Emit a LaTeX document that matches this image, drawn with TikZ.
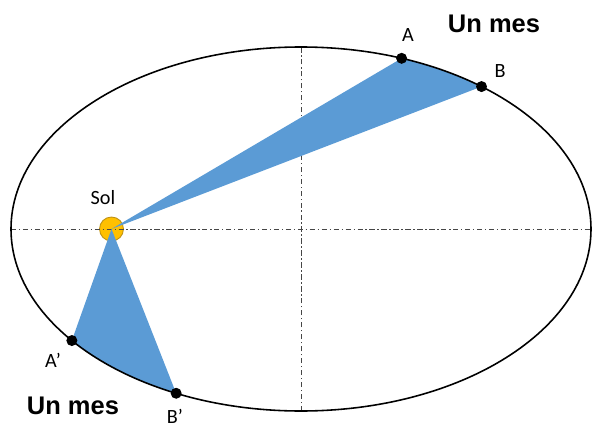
\documentclass[tikz,border=0pt]{standalone}
\usepackage{fontspec}
\setmainfont{Carlito}
\newfontfamily\headfont{Liberation Sans}
\usetikzlibrary{positioning}
\definecolor{skyblue}{RGB}{91,155,213}
\definecolor{sungold}{RGB}{255,192,0}
\definecolor{sunrim}{RGB}{190,145,20}
\definecolor{axisgray}{RGB}{70,70,70}

\begin{document}
\begin{tikzpicture}[
    lbl/.style={inner sep=0pt,font=\fontsize{11.5}{13}\selectfont},
    headlbl/.style={inner sep=0pt,font=\headfont\bfseries\fontsize{14.5}{16}\selectfont},
    axisline/.style={axisgray,line width=0.4pt,dash pattern=on 3pt off 1.5pt on 0.8pt off 1.5pt},
    wedge/.style={fill=skyblue}]
        \useasboundingbox (-6.02,-4.02) rectangle (5.82,4.58);
        % orbit points
        \coordinate (A) at (69.7:5.8 and 3.64);
        \coordinate (B) at (51.5:5.8 and 3.64);
        \coordinate (Ap) at (217.8:5.8 and 3.64);
        \coordinate (Bp) at (244.5:5.8 and 3.64);
        \node[circle,fill=sungold,draw=sunrim,line width=0.5pt,minimum size=0.48cm,inner sep=0pt] (sol) at (-3.79,0) {};
        \draw[axisline] (-5.8,0) -- (5.8,0);
        \draw[axisline] (0,-3.64) -- (0,3.64);
        % equal areas
        \fill[wedge] (sol.center) -- (A) arc[start angle=69.7,end angle=51.5,x radius=5.8,y radius=3.64] -- cycle;
        \fill[wedge] (sol.center) -- (Ap) arc[start angle=217.8,end angle=244.5,x radius=5.8,y radius=3.64] -- cycle;
        \draw[line width=0.9pt] (0,0) ellipse (5.8 and 3.64);
        \foreach \p in {A,B,Ap,Bp} \fill (\p) circle (0.11);
        \node[lbl] (sollbl) at (-3.96,0.63) {Sol};
        \node[lbl] (Albl) at (2.14,3.88) {A};
        \node[lbl] (Blbl) at (3.98,3.16) {B};
        \node[lbl] (Aplbl) at (-4.96,-2.62) {A’};
        \node[lbl,anchor=north] (Bplbl) at (-2.52,-3.60) {B’};
        \node[headlbl] (mestop) at (3.86,4.10) {Un mes};
        \node[headlbl] (mesbot) at (-4.56,-3.54) {Un mes};
      \end{tikzpicture}
\end{document}
